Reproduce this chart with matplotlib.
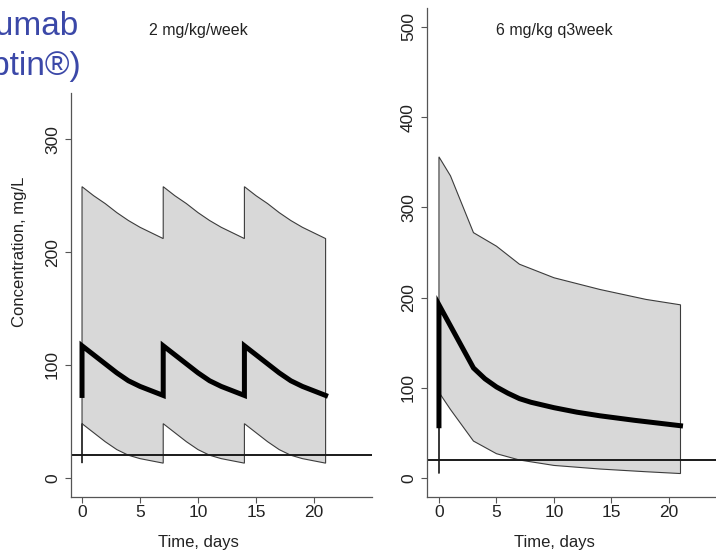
import numpy as np
import matplotlib
matplotlib.use("Agg")
import matplotlib.pyplot as plt
import matplotlib.transforms as mtransforms

plt.rcParams['font.family'] = ['Liberation Sans', 'DejaVu Sans']

# weekly dosing, 2 mg/kg/week (left panel)
t_week = [0, 0, 1, 2, 3, 4, 5, 6, 7, 7, 8, 9, 10, 11, 12, 13, 14, 14,
          15, 16, 17, 18, 19, 20, 21]
median_week = [73, 117, 109, 101, 93, 86, 81, 77, 73, 117, 109, 101, 93, 86,
               81, 77, 73, 117, 109, 101, 93, 86, 81, 77, 73]
upper_week = [212, 258, 250, 243, 235, 228, 222, 217, 212, 258, 250, 243, 235,
              228, 222, 217, 212, 258, 250, 243, 235, 228, 222, 217, 212]
lower_week = [13, 48, 40, 32, 25, 20, 17, 15, 13, 48, 40, 32, 25, 20, 17, 15,
              13, 48, 40, 32, 25, 20, 17, 15, 13]

# 6 mg/kg every 3 weeks (right panel)
t_q3_med = [0, 0, 3, 4, 5, 6, 7, 8, 10, 12, 14, 17, 21]
median_q3 = [58, 192, 122, 110, 101, 94, 88, 84, 78, 73, 69, 64, 58]
t_q3_band = [0, 0, 1, 3, 5, 7, 10, 14, 18, 21]
upper_q3 = [192, 356, 335, 272, 257, 237, 222, 209, 198, 192]
lower_q3 = [5, 95, 76, 41, 27, 20, 14, 10, 7, 5]

threshold = 20
x_ticks = [0, 5, 10, 15, 20]

W, H = 716, 553
fig = plt.figure(figsize=(W / 100, H / 100), dpi=100)


def px_axes(x0, y0, x1, y1):
    # pixel box (top-left origin) -> figure fraction
    return [x0 / W, 1 - y1 / H, (x1 - x0) / W, (y1 - y0) / H]


def draw_panel(ax, t_med, med, t_band, up, low, title, yticks):
    t_band = np.asarray(t_band, dtype=float)
    xs = np.concatenate([t_band, t_band[::-1]])
    ys = np.concatenate([up, low[::-1]])
    ax.fill(xs, ys, facecolor='#d8d8d8', edgecolor='#3c3c3c', lw=0.8,
            joinstyle='miter', zorder=1)
    ax.axhline(threshold, color='#1a1a1a', lw=1.4, zorder=2)
    ax.plot(t_med, med, color='black', lw=3.6, solid_joinstyle='miter', zorder=3)

    for s in ['top', 'right']:
        ax.spines[s].set_visible(False)
    for s in ['left', 'bottom']:
        ax.spines[s].set_color('#555555')
        ax.spines[s].set_linewidth(0.9)
    ax.set_xticks(x_ticks)
    ax.set_yticks(yticks)
    ax.tick_params(direction='out', length=4, width=0.8, color='#555555',
                   labelsize=12.5, labelcolor='#222222')
    ax.tick_params(axis='x', pad=1.5)
    ax.tick_params(axis='y', pad=4)
    plt.setp(ax.get_yticklabels(), rotation=90, va='center')

    tr = mtransforms.blended_transform_factory(ax.transData, fig.transFigure)
    ax.text(10, 1 - 30 / H, title, transform=tr, ha='center', va='center',
            fontsize=11.5, color='#222222')
    ax.text(10, 1 - 542 / H, 'Time, days', transform=tr, ha='center',
            va='center', fontsize=12, color='#222222')


ax1 = fig.add_axes(px_axes(71, 93, 372, 497))
ax1.set_xlim(-0.95, 25)
ax1.set_ylim(-17, 341)
draw_panel(ax1, t_week, median_week, t_week, np.array(upper_week),
           np.array(lower_week), '2 mg/kg/week', [0, 100, 200, 300])

ax2 = fig.add_axes(px_axes(427, 8, 726.5, 497))
ax2.set_xlim(-1.04, 25)
ax2.set_ylim(-21, 521)
draw_panel(ax2, t_q3_med, median_q3, t_q3_band, np.array(upper_q3),
           np.array(lower_q3), '6 mg/kg q3week', [0, 100, 200, 300, 400, 500])

fig.text(20 / W, 1 - 252 / H, 'Concentration, mg/L', rotation=90,
         ha='center', va='center', fontsize=12, color='#222222')

# slide title, cut off at the left edge as in the source slide
blue = '#3b48a8'
fig.text(78 / W, 1 - 35 / H, 'Trastuzumab', ha='right', va='baseline',
         fontsize=24, color=blue)
fig.text(82 / W, 1 - 75 / H, '(Herceptin®)', ha='right', va='baseline',
         fontsize=24, color=blue)

fig.savefig('out.png', dpi=100)
